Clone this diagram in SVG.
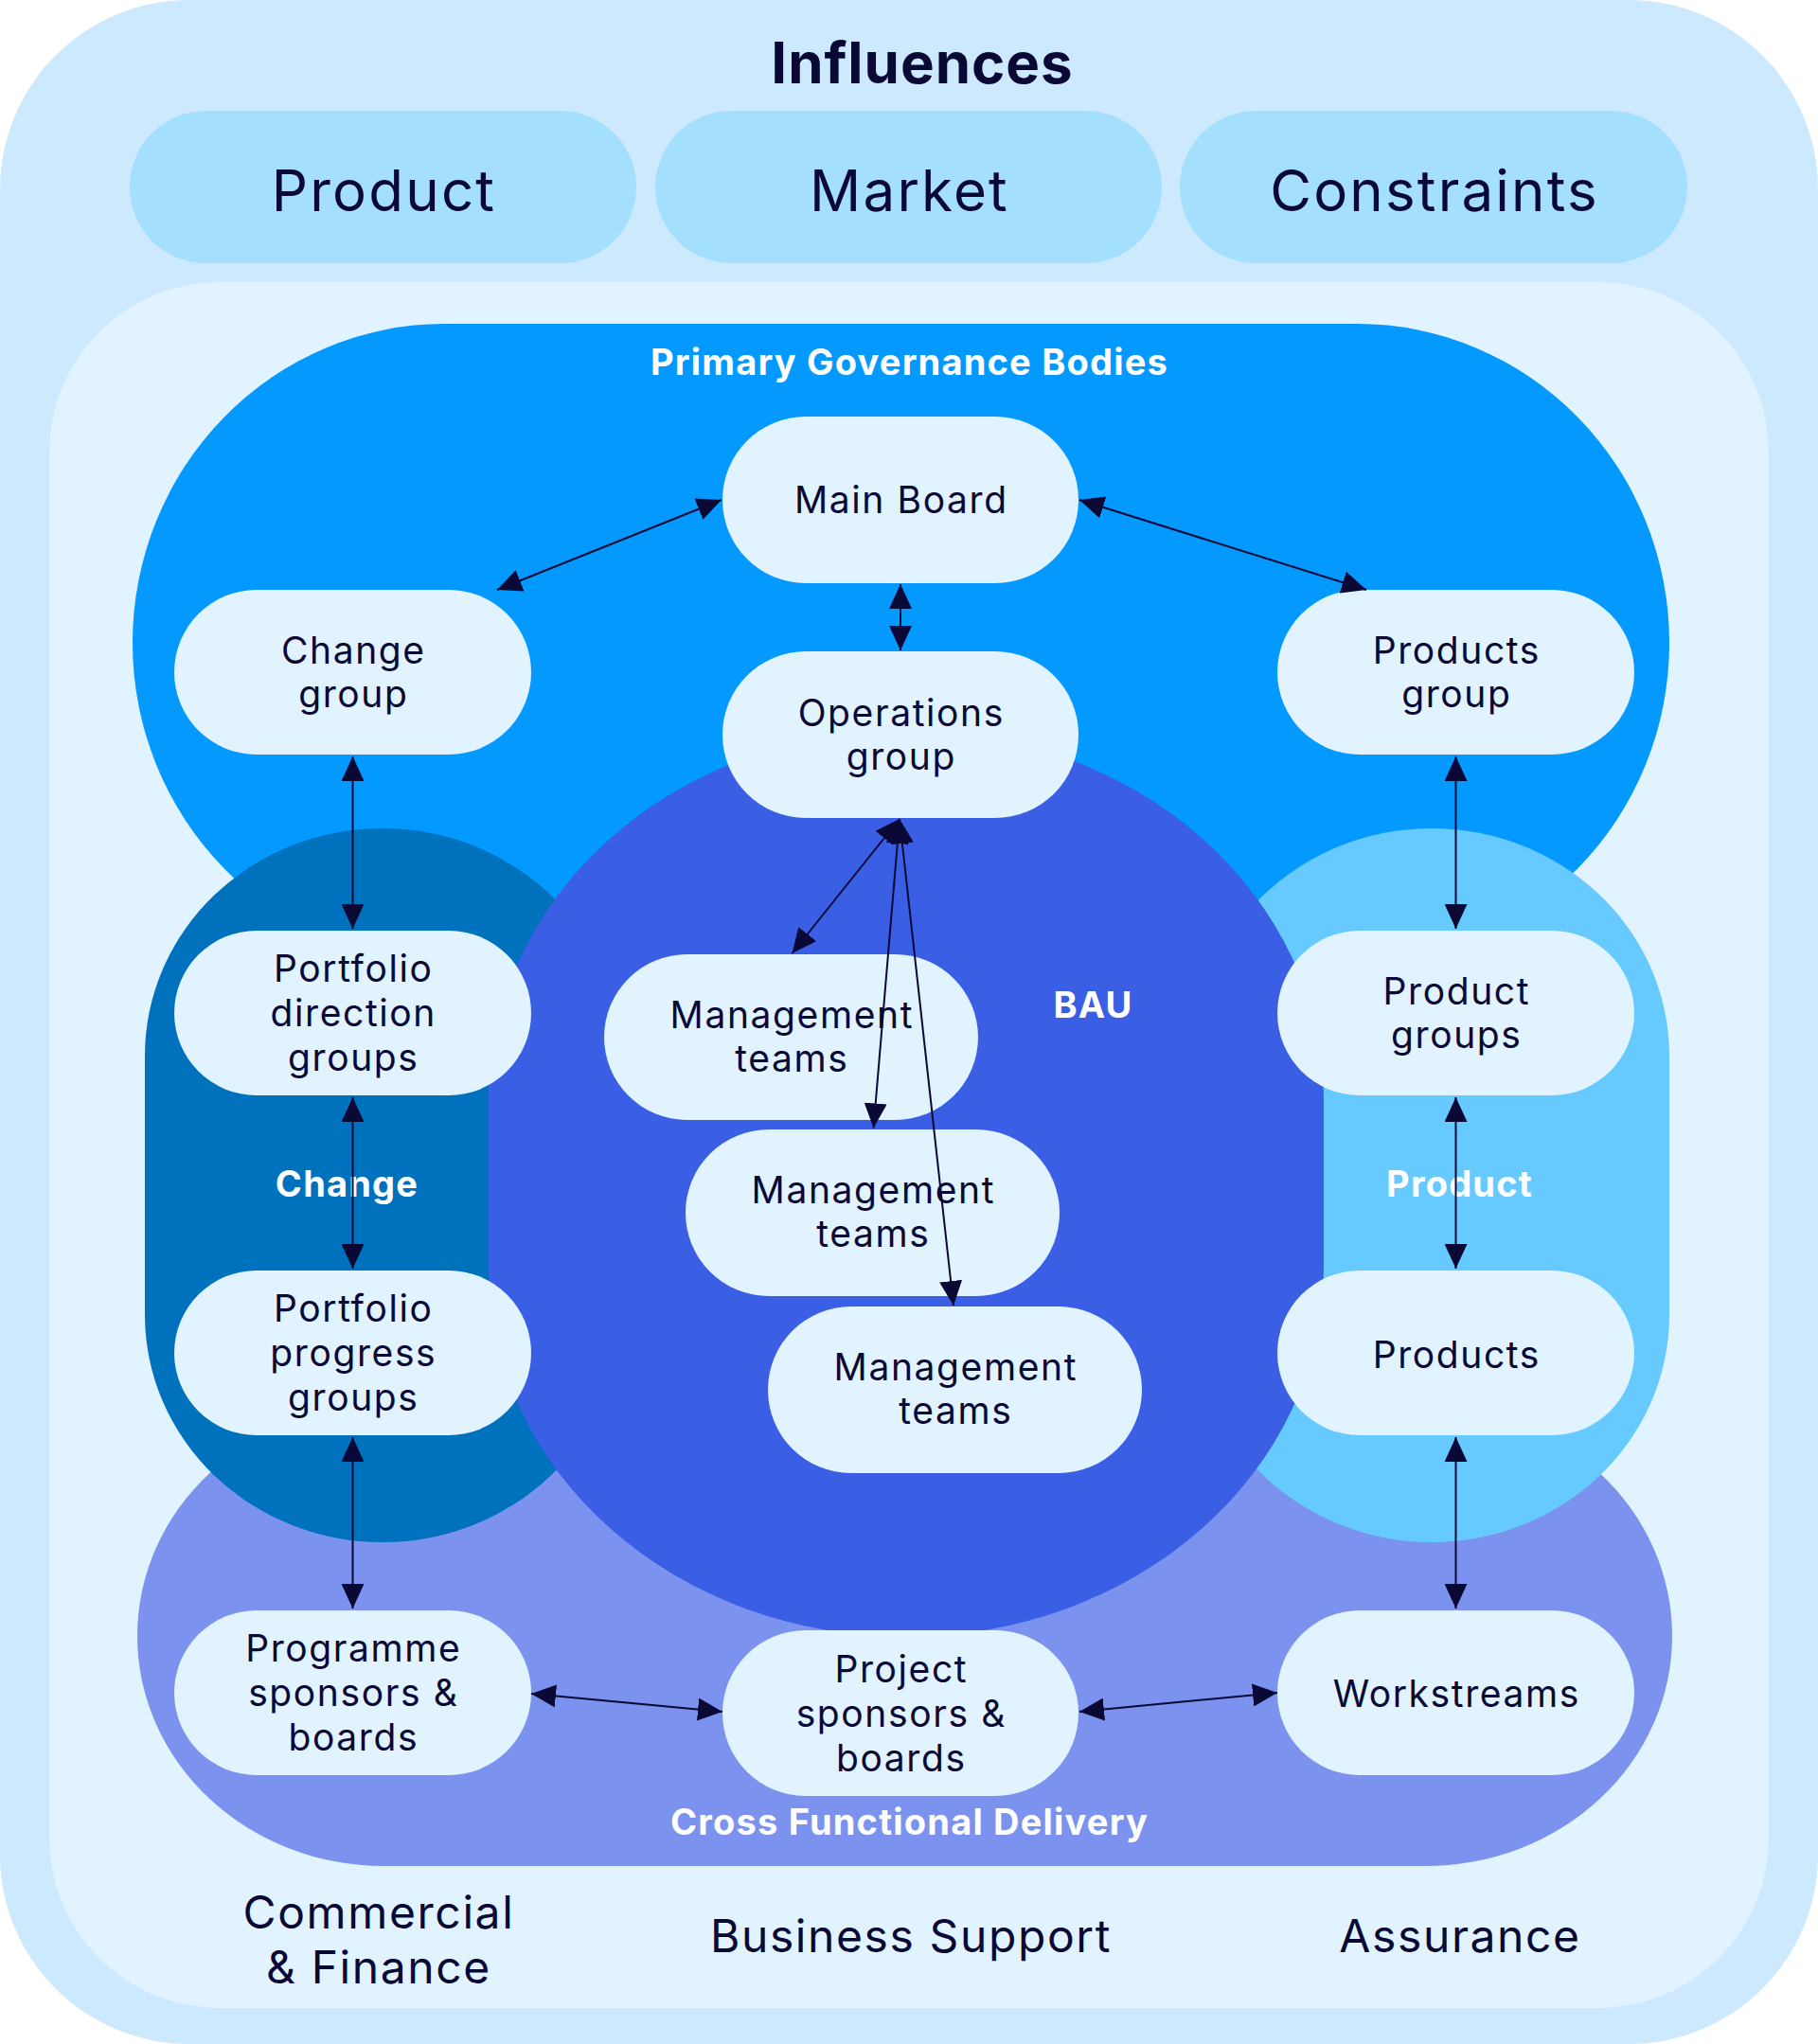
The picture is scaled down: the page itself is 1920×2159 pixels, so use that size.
<svg xmlns="http://www.w3.org/2000/svg" width="1920" height="2159" viewBox="0 0 1920 2159">
<defs>
<style>
.t{font-family:Inter,"Noto Sans","Liberation Sans",sans-serif;fill:#0A0835;text-anchor:middle}
.n{font-size:39px;letter-spacing:1.6px}
.b{font-weight:700;fill:#FFFFFF;font-size:38px;letter-spacing:1.2px}
.big{font-size:60px;letter-spacing:2.2px}
.low{font-size:48px;letter-spacing:1.6px}
.pill{fill:#E0F3FE}
.inf{fill:#A4DFFE}
.c{stroke:#0A0835;stroke-width:2;fill:none;marker-start:url(#ah);marker-end:url(#ah)}
</style>
<marker id="ah" viewBox="0 0 26 24" markerWidth="26" markerHeight="24" refX="26" refY="12" markerUnits="userSpaceOnUse" orient="auto-start-reverse">
<path d="M0,0 L26,12 L0,24 z" fill="#0A0835"/>
</marker>
</defs>

<g id="background">
<rect x="0" y="0" width="1920" height="2159" rx="200" ry="200" fill="#CCE9FD"/>
<rect x="52" y="298" width="1816" height="1823" rx="180" ry="180" fill="#E0F3FE"/>
</g>

<g id="influences">
<text class="t" x="974" y="88" style="font-size:60px;font-weight:700;letter-spacing:1px">Influences</text>
<g id="inf-product"><rect class="inf" x="137" y="117" width="535" height="161" rx="80.5" ry="80.5"/><text class="t big" x="405.5" y="223">Product</text></g>
<g id="inf-market"><rect class="inf" x="692" y="117" width="535" height="161" rx="80.5" ry="80.5"/><text class="t big" x="960.5" y="223">Market</text></g>
<g id="inf-constraints"><rect class="inf" x="1246" y="117" width="536" height="161" rx="80.5" ry="80.5"/><text class="t big" x="1515" y="223">Constraints</text></g>
</g>

<g id="areas">
<g id="area-primary"><rect x="140" y="342" width="1623" height="674" rx="330" ry="337" fill="#0399FE"/></g>
<g id="area-cfd"><rect x="145" y="1485" width="1621" height="486" rx="260" ry="243" fill="#7B93EE"/></g>
<g id="area-change"><rect x="153" y="875" width="502" height="754" rx="251" ry="240" fill="#0071BD"/></g>
<g id="area-product"><rect x="1261" y="875" width="502" height="754" rx="251" ry="240" fill="#66CAFF"/></g>
<g id="area-bau"><rect x="516" y="771" width="882" height="958" rx="441" ry="389" fill="#3A5FE5"/></g>
<text class="t b" x="960.5" y="396">Primary Governance Bodies</text>
<text class="t b" x="366.5" y="1264">Change</text>
<text class="t b" x="1541.5" y="1264">Product</text>
<text class="t b" x="1154.5" y="1075">BAU</text>
<text class="t b" x="960.5" y="1938">Cross Functional Delivery</text>
</g>

<g id="bottom-labels">
<text class="t low" x="400" y="2037">Commercial</text>
<text class="t low" x="400" y="2095">&amp; Finance</text>
<text class="t low" x="962" y="2062">Business Support</text>
<text class="t low" x="1542" y="2062">Assurance</text>
</g>

<g id="nodes">
<g id="main-board"><rect class="pill" x="763" y="440" width="376" height="176" rx="88"/><text class="t n" x="951.8" y="542">Main Board</text></g>
<g id="change-group"><rect class="pill" x="184" y="623" width="377" height="174" rx="87"/><text class="t n" x="373.3" y="701">Change</text><text class="t n" x="373.3" y="747">group</text></g>
<g id="products-group"><rect class="pill" x="1349" y="623" width="377" height="174" rx="87"/><text class="t n" x="1538.3" y="701">Products</text><text class="t n" x="1538.3" y="747">group</text></g>
<g id="operations-group"><rect class="pill" x="763" y="688" width="376" height="176" rx="88"/><text class="t n" x="951.8" y="767">Operations</text><text class="t n" x="951.8" y="813">group</text></g>
<g id="portfolio-direction"><rect class="pill" x="184" y="983" width="377" height="174" rx="87"/><text class="t n" x="373.3" y="1037">Portfolio</text><text class="t n" x="373.3" y="1084">direction</text><text class="t n" x="373.3" y="1131">groups</text></g>
<g id="portfolio-progress"><rect class="pill" x="184" y="1342" width="377" height="174" rx="87"/><text class="t n" x="373.3" y="1396">Portfolio</text><text class="t n" x="373.3" y="1443">progress</text><text class="t n" x="373.3" y="1490">groups</text></g>
<g id="product-groups"><rect class="pill" x="1349" y="983" width="377" height="174" rx="87"/><text class="t n" x="1538.3" y="1061">Product</text><text class="t n" x="1538.3" y="1107">groups</text></g>
<g id="products"><rect class="pill" x="1349" y="1342" width="377" height="174" rx="87"/><text class="t n" x="1538.3" y="1445">Products</text></g>
<g id="mgmt-1"><rect class="pill" x="638" y="1008" width="395" height="175" rx="87.5"/><text class="t n" x="836.3" y="1086">Management</text><text class="t n" x="836.3" y="1132">teams</text></g>
<g id="mgmt-2"><rect class="pill" x="724" y="1193" width="395" height="176" rx="88"/><text class="t n" x="922.3" y="1271">Management</text><text class="t n" x="922.3" y="1317">teams</text></g>
<g id="mgmt-3"><rect class="pill" x="811" y="1380" width="395" height="176" rx="88"/><text class="t n" x="1009.3" y="1458">Management</text><text class="t n" x="1009.3" y="1504">teams</text></g>
<g id="programme-sponsors"><rect class="pill" x="184" y="1701" width="377" height="174" rx="87"/><text class="t n" x="373.3" y="1755">Programme</text><text class="t n" x="373.3" y="1802">sponsors &amp;</text><text class="t n" x="373.3" y="1849">boards</text></g>
<g id="project-sponsors"><rect class="pill" x="763" y="1722" width="376" height="175" rx="87.5"/><text class="t n" x="951.8" y="1777">Project</text><text class="t n" x="951.8" y="1824">sponsors &amp;</text><text class="t n" x="951.8" y="1871">boards</text></g>
<g id="workstreams"><rect class="pill" x="1349" y="1701" width="377" height="174" rx="87"/><text class="t n" x="1538.3" y="1803">Workstreams</text></g>
</g>

<g id="connectors">
<line class="c" x1="525" y1="623" x2="762" y2="528"/>
<line class="c" x1="1140" y1="528" x2="1443" y2="623"/>
<line class="c" x1="951" y1="617" x2="951" y2="687"/>
<line class="c" x1="372.5" y1="799" x2="372.5" y2="981"/>
<line class="c" x1="372.5" y1="1159" x2="372.5" y2="1340"/>
<line class="c" x1="372.5" y1="1518" x2="372.5" y2="1699"/>
<line class="c" x1="1537.5" y1="799" x2="1537.5" y2="981"/>
<line class="c" x1="1537.5" y1="1159" x2="1537.5" y2="1340"/>
<line class="c" x1="1537.5" y1="1518" x2="1537.5" y2="1699"/>
<line class="c" x1="561" y1="1789" x2="763" y2="1808"/>
<line class="c" x1="1140" y1="1808" x2="1349" y2="1788"/>
<line class="c" x1="950" y1="865" x2="836.5" y2="1007"/>
<line class="c" x1="950" y1="865" x2="922.5" y2="1191.5"/>
<line class="c" x1="950" y1="865" x2="1007" y2="1379"/>
</g>
</svg>
